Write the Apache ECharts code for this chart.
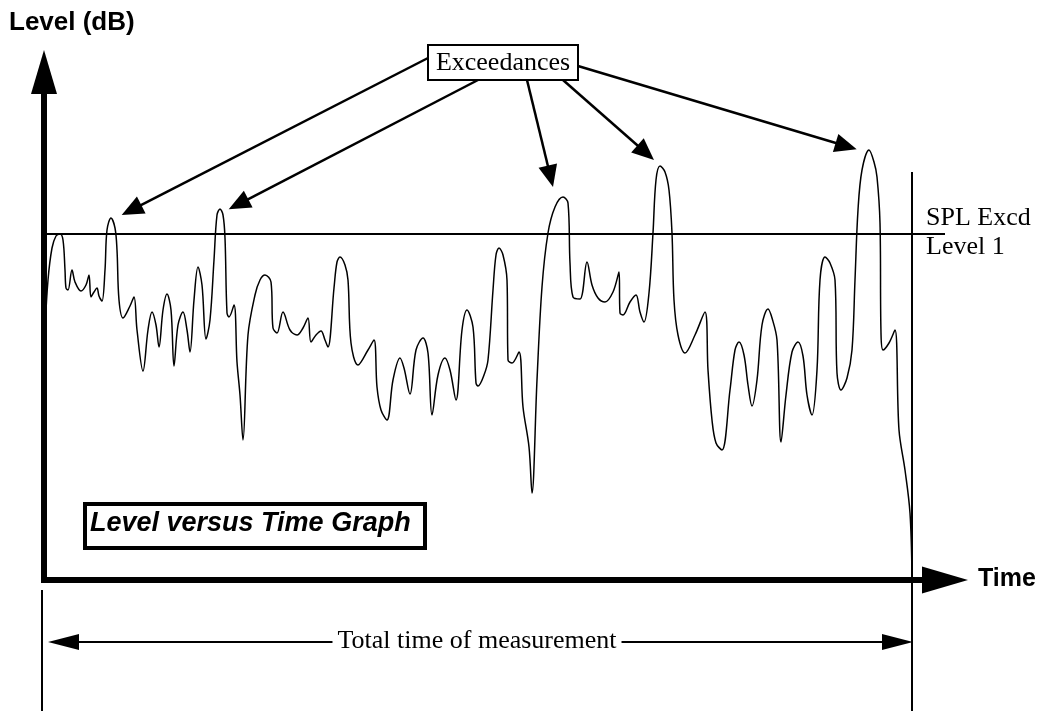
<!DOCTYPE html>
<html>
<head>
<meta charset="utf-8">
<script src="https://cdn.jsdelivr.net/npm/echarts@6/dist/echarts.min.js"></script>
<style>
  html, body { margin: 0; padding: 0; background: #fff; }
  #chart { width: 1041px; height: 711px; }
</style>
</head>
<body>
<div id="chart"></div>
<script>
// Sound level record: time (s) and level (dB)
const timeSec = [
  0.1, 0.4, 0.8, 1.2, 1.6, 1.9, 2.1, 2.2, 2.4, 2.8, 3.1, 3.7, 4.2, 4.5, 4.7, 5.0, 5.3, 5.5, 5.8, 6.1,
  6.3, 6.7, 7.1, 7.3, 7.5, 7.9, 8.6, 9.0, 9.3, 9.9, 10.4, 10.8, 11.2, 11.5, 11.9, 12.3, 12.7, 13.0, 13.4, 13.9,
  14.3, 14.6, 15.0, 15.4, 15.8, 16.2, 16.6, 17.0, 17.3, 17.6, 17.9, 18.1, 18.3, 18.5, 19.0, 19.3, 19.6, 19.9, 20.4, 21.1,
  21.6, 22.1, 22.7, 22.9, 23.3, 23.9, 24.6, 25.3, 25.9, 26.4, 26.7, 27.2, 27.7, 28.1, 28.4, 29.0, 29.3, 29.6, 30.1, 30.4,
  30.7, 31.4, 32.4, 33.0, 33.3, 33.7, 34.3, 34.9, 35.6, 36.0, 36.6, 37.2, 37.9, 38.4, 38.8, 39.4, 40.1, 40.6, 41.2, 41.8,
  42.3, 42.9, 43.2, 43.4, 44.0, 44.4, 44.9, 45.2, 45.5, 45.9, 46.3, 46.4, 46.8, 47.5, 47.9, 48.5, 48.8, 49.3, 49.8, 50.4,
  51.1, 51.9, 52.4, 52.6, 52.9, 53.6, 54.3, 54.8, 55.4, 56.1, 56.9, 57.5, 57.6, 57.9, 58.6, 59.2, 59.6, 60.0, 60.5, 60.9,
  61.2, 61.6, 62.1, 62.5, 62.8, 63.0, 63.4, 64.1, 65.1, 66.1, 66.4, 66.8, 67.2, 67.8, 68.6, 69.1, 69.5, 70.0, 70.4, 70.8,
  71.3, 71.8, 72.4, 72.8, 73.3, 73.7, 74.2, 74.8, 75.4, 75.9, 76.3, 76.8, 77.3, 77.6, 78.1, 78.6, 79.1, 79.3, 79.7, 80.3,
  80.8, 81.1, 81.4, 81.8, 82.5, 83.0, 83.3, 83.6, 83.7, 83.9, 84.5, 85.1, 85.5, 86.1, 86.6, 86.8
];
const levelDb = [
  50, 60, 66.4, 68.8, 69.2, 68, 62, 58.4, 58, 62, 59.6, 57.8, 59, 61, 56.6, 57.6, 58.4, 56.8, 55.8, 62,
  70, 72.4, 70.4, 66, 56, 52.4, 54.8, 56.6, 50, 41.8, 50, 53.6, 51, 46.6, 54, 57.2, 54, 42.8, 51, 53.6,
  50, 45.6, 56, 62.6, 59, 48.2, 52, 64, 73, 74.2, 73, 68.4, 53.4, 52.6, 55, 43.6, 37, 28, 49, 57,
  60, 61, 59.6, 50.4, 49.4, 53.6, 50, 49, 50.4, 52.4, 47.6, 49, 49.8, 48, 46.6, 58.4, 63.6, 64.6, 63, 60,
  47.4, 43, 46, 48, 38.6, 34, 32, 40, 44.4, 42.4, 37.2, 46, 48.4, 45.4, 33, 41, 44.4, 42, 36, 50,
  54, 50.6, 39.4, 38.8, 41, 44, 58, 65, 66.4, 65, 60, 44, 43.4, 45.6, 34.6, 26.6, 17.4, 40, 58.6, 69.4,
  74.6, 76.6, 75.4, 63.4, 56.6, 56.2, 63.6, 59, 56.4, 55.6, 57.6, 61.6, 53.4, 53, 55.6, 57, 53.6, 51.6, 57.4, 69.4,
  80, 82.8, 81.6, 78, 69.4, 56, 49, 45.4, 49, 53.6, 42, 32, 27.4, 26, 38, 46, 47.6, 45, 39, 34.8,
  40, 51, 54.2, 52.4, 48, 27.6, 37, 45.6, 47.6, 44.8, 37, 33, 42, 60, 64.6, 63.4, 60, 41.4, 38, 40.4,
  46, 60, 74, 82, 86, 83.6, 80.6, 71.4, 49.4, 46, 47.4, 50, 30, 22, 13.4, 0.6
];
const exceedLevel = 69.2;   // SPL exceedance level 1 (dB)
const totalTime = 86.8;     // total time of measurement (s)
const timeAxisMax = 90.1;
const levelAxisMax = 101.6;

const seriesData = timeSec.map((t, i) => [t, levelDb[i]]);

const chart = echarts.init(document.getElementById('chart'), null, { renderer: 'canvas' });

chart.setOption({
  animation: false,
  backgroundColor: '#fff',
  grid: { left: 44, right: 96, top: 72, bottom: 131 },
  xAxis: {
    type: 'value', min: 0, max: timeAxisMax,
    axisLine: {
      show: true, onZero: false,
      symbol: ['none', 'triangle'], symbolSize: [27, 46],
      lineStyle: { color: '#000', width: 6, cap: 'square' }
    },
    axisTick: { show: false }, axisLabel: { show: false }, splitLine: { show: false }
  },
  yAxis: {
    type: 'value', min: 0, max: levelAxisMax,
    axisLine: {
      show: true, onZero: false,
      symbol: ['none', 'triangle'], symbolSize: [26, 44],
      lineStyle: { color: '#000', width: 6 }
    },
    axisTick: { show: false }, axisLabel: { show: false }, splitLine: { show: false }
  },
  series: [{
    type: 'line',
    data: seriesData,
    smooth: 0.35,
    showSymbol: false,
    clip: false,
    lineStyle: { color: '#000', width: 1.5 },
    markLine: {
      silent: true,
      symbol: ['none', 'none'],
      label: { show: false },
      lineStyle: { color: '#000', width: 2, type: 'solid' },
      data: [{ yAxis: exceedLevel }]
    }
  }]
});

// Annotations placed relative to the axes
const px = (t, l) => chart.convertToPixel({ gridIndex: 0 }, [t, l]);
const x0 = px(0, 0)[0];
const xEnd = px(totalTime, 0)[0];

function arrow(x1, y1, x2, y2, width, headLen, headHalf) {
  const dx = x2 - x1, dy = y2 - y1, len = Math.hypot(dx, dy);
  const ux = dx / len, uy = dy / len;
  const bx = x2 - ux * headLen, by = y2 - uy * headLen;
  return [
    { type: 'line', shape: { x1: x1, y1: y1, x2: bx + ux * 2, y2: by + uy * 2 },
      style: { stroke: '#000', lineWidth: width } },
    { type: 'polygon',
      shape: { points: [[x2, y2], [bx - uy * headHalf, by + ux * headHalf], [bx + uy * headHalf, by - ux * headHalf]] },
      style: { fill: '#000' } }
  ];
}

// local maxima above the exceedance level
const peaks = [];
for (let i = 1; i < levelDb.length - 1; i++) {
  if (levelDb[i] > exceedLevel && levelDb[i] >= levelDb[i - 1] && levelDb[i] >= levelDb[i + 1]) {
    peaks.push([timeSec[i], levelDb[i]]);
  }
}
const arrowStarts = [[428, 58], [478, 80], [527, 80], [563, 80], [578, 66]];
const tipOffsets = [[10.7, -3], [8.7, 0.3], [-10, -10], [-6, -6], [-12.3, -0.7]];

const graphics = [];
peaks.forEach((p, i) => {
  const pp = px(p[0], p[1]);
  const s = arrowStarts[i], o = tipOffsets[i];
  graphics.push(...arrow(s[0], s[1], pp[0] + o[0], pp[1] + o[1], 2.5, 22, 9.5));
});

const serif = '"Liberation Serif", "Times New Roman", serif';
const sans = '"Liberation Sans", Arial, sans-serif';

graphics.push(
  { type: 'rect', shape: { x: 428, y: 45, width: 150, height: 35 },
    style: { fill: '#fff', stroke: '#000', lineWidth: 2 }, z: 10 },
  { type: 'text', x: 503, y: 63, z: 11,
    style: { text: 'Exceedances', font: '26px ' + serif, fill: '#000', align: 'center', verticalAlign: 'middle' } },

  { type: 'text', x: 9, y: 23,
    style: { text: 'Level (dB)', font: 'bold 26px ' + sans, fill: '#000', verticalAlign: 'middle' } },
  { type: 'text', x: 978, y: 579,
    style: { text: 'Time', font: 'bold 25px ' + sans, fill: '#000', verticalAlign: 'middle' } },

  { type: 'text', x: 926, y: 218,
    style: { text: 'SPL Excd', font: '26px ' + serif, fill: '#000', verticalAlign: 'middle' } },
  { type: 'text', x: 926, y: 247,
    style: { text: 'Level 1', font: '26px ' + serif, fill: '#000', verticalAlign: 'middle' } },

  { type: 'rect', shape: { x: 85, y: 504, width: 340, height: 44 },
    style: { fill: '#fff', stroke: '#000', lineWidth: 4 } },
  { type: 'text', x: 90, y: 524,
    style: { text: 'Level versus Time Graph', font: 'italic bold 27px ' + sans, fill: '#000', verticalAlign: 'middle' } },

  // end markers of the measurement
  { type: 'line', shape: { x1: xEnd, y1: 172, x2: xEnd, y2: 711 },
    style: { stroke: '#000', lineWidth: 2 } },
  { type: 'line', shape: { x1: x0 - 2, y1: 590, x2: x0 - 2, y2: 711 },
    style: { stroke: '#000', lineWidth: 2 } }
);

// dimension line for the total time
const dimY = 642;
graphics.push(
  { type: 'line', shape: { x1: x0 + 20, y1: dimY, x2: xEnd - 20, y2: dimY },
    style: { stroke: '#000', lineWidth: 2 } },
  { type: 'polygon', shape: { points: [[x0 + 4, dimY], [x0 + 35, dimY - 8], [x0 + 35, dimY + 8]] },
    style: { fill: '#000' } },
  { type: 'polygon', shape: { points: [[xEnd + 1, dimY], [xEnd - 30, dimY - 8], [xEnd - 30, dimY + 8]] },
    style: { fill: '#000' } },
  { type: 'text', x: (x0 + xEnd) / 2 - 1, y: dimY - 1, z: 5,
    style: { text: 'Total time of measurement', font: '26px ' + serif, fill: '#000',
             align: 'center', verticalAlign: 'middle', backgroundColor: '#fff', padding: [0, 5] } }
);

chart.setOption({ graphic: graphics });
</script>
</body>
</html>
